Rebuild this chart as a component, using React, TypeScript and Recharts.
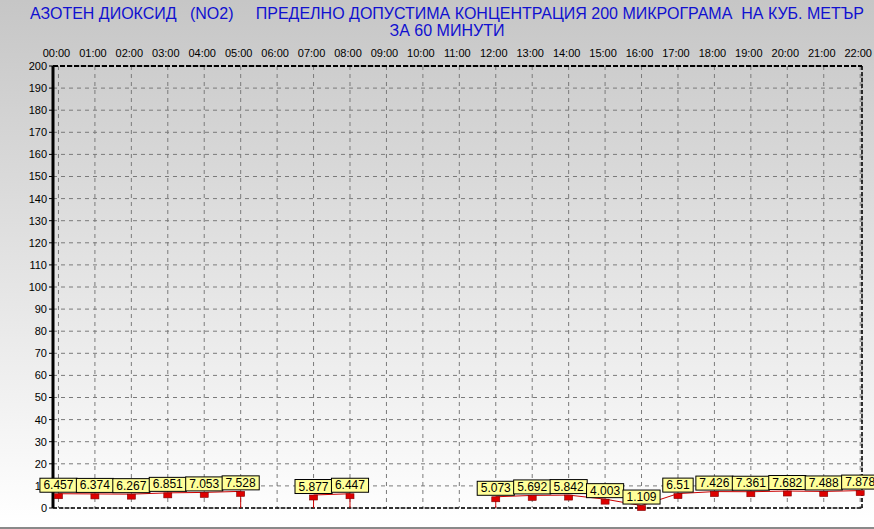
import { CartesianGrid, ComposedChart, LabelList, Line, ReferenceLine, XAxis, YAxis } from 'recharts';

const hours = [
  '00:00', '01:00', '02:00', '03:00', '04:00', '05:00', '06:00', '07:00', '08:00', '09:00', '10:00', '11:00',
  '12:00', '13:00', '14:00', '15:00', '16:00', '17:00', '18:00', '19:00', '20:00', '21:00', '22:00',
];

const no2Values: Array<number | null> = [
  6.457, 6.374, 6.267, 6.851, 7.053, 7.528, null, 5.877, 6.447, null, null, null,
  5.073, 5.692, 5.842, 4.003, 1.109, 6.51, 7.426, 7.361, 7.682, 7.488, 7.878,
];

const yTicks = [0, 10, 20, 30, 40, 50, 60, 70, 80, 90, 100, 110, 120, 130, 140, 150, 160, 170, 180, 190, 200];

const titleLine1 = 'АЗОТЕН ДИОКСИД   (NO2)     ПРЕДЕЛНО ДОПУСТИМА КОНЦЕНТРАЦИЯ 200 МИКРОГРАМА  НА КУБ. МЕТЪР';
const titleLine2 = 'ЗА 60 МИНУТИ';

const data = hours.map((hour, i) => ({ x: i, hour, v: no2Values[i] }));

const FONT = '"Liberation Sans", Arial, sans-serif';
const BASELINE_Y = 508;

interface DotProps {
  cx?: number;
  cy?: number;
  index?: number;
}

function renderMarker(props: DotProps) {
  const { cx, cy, index = 0 } = props;
  if (cx == null || cy == null || no2Values[index] == null) return <g key={`m-${index}`} />;
  // drop line where the series breaks next to a missing hour
  const gapNext = index + 1 < no2Values.length && no2Values[index + 1] === null;
  const gapPrev = index > 0 && no2Values[index - 1] === null;
  return (
    <g key={`m-${index}`}>
      {(gapNext || gapPrev) && <line x1={cx} x2={cx} y1={cy} y2={BASELINE_Y} stroke="#cc0000" strokeWidth={1} />}
      <rect x={cx - 4} y={cy} width={8} height={5} fill="#dd0000" stroke="#800000" strokeWidth={0.6} />
    </g>
  );
}

interface LabelProps {
  x?: number | string;
  y?: number | string;
  value?: number | string | null;
  index?: number;
}

function renderValueBox(props: LabelProps) {
  const { x, y, value, index } = props;
  if (value == null || x == null || y == null) return null;
  const cx = Number(x);
  const cy = Number(y);
  const text = String(value);
  const textWidth = text.split('').reduce((sum, ch) => sum + (ch === '.' ? 3.3 : 6.7), 0);
  const w = textWidth + 7;
  const h = 14;
  const bottom = cy - 1.5;
  return (
    <g key={`l-${index}`}>
      <rect x={cx - w / 2} y={bottom - h} width={w} height={h} fill="#ffff99" stroke="#000" strokeWidth={1} />
      <text x={cx - w / 2 + 3.5} y={bottom - 3} fontSize={12} fontFamily={FONT} fill="#000">
        {text}
      </text>
    </g>
  );
}

export default function App() {
  return (
    <div
      style={{
        position: 'absolute',
        left: 0,
        top: 0,
        width: 874,
        height: 529,
        boxSizing: 'border-box',
        background: 'linear-gradient(to bottom, #c6c6c6 0%, #fdfdfd 96%, #ffffff 100%)',
        borderBottom: '2px solid #8a8a8a',
        fontFamily: FONT,
      }}
    >
      <div
        style={{
          position: 'absolute',
          left: 0,
          top: 5,
          width: 894,
          textAlign: 'center',
          color: '#1010d0',
          fontSize: 16,
          lineHeight: '17px',
          whiteSpace: 'pre',
        }}
      >
        <div>{titleLine1}</div>
        <div>{titleLine2}</div>
      </div>
      <div style={{ position: 'absolute', left: 0, top: 0 }}>
        <ComposedChart width={874} height={527} data={data} margin={{ top: 40, right: 12, bottom: 19, left: 0 }}>
          <CartesianGrid stroke="#7a7a7a" strokeDasharray="4 4" strokeWidth={1} />
          <XAxis
            type="number"
            dataKey="x"
            orientation="top"
            domain={[-0.15, 22.05]}
            ticks={hours.map((_, i) => i)}
            tickFormatter={(i: number) => hours[i] ?? ''}
            interval={0}
            axisLine={false}
            tickLine={false}
            height={26}
            tickMargin={3}
            tick={{ fill: '#000', fontSize: 11, fontFamily: FONT, dx: -2 }}
          />
          <YAxis
            type="number"
            domain={[0, 200]}
            ticks={yTicks}
            interval={0}
            width={53}
            axisLine={{ stroke: '#000', strokeWidth: 3 }}
            tickLine={{ stroke: '#000' }}
            tickSize={4}
            tickMargin={2}
            tick={{ fill: '#000', fontSize: 11, fontFamily: FONT }}
          />
          <ReferenceLine y={200} stroke="#000" strokeWidth={2} strokeDasharray="5 2" />
          <ReferenceLine y={0} stroke="#000" strokeWidth={1.5} strokeDasharray="4 2" />
          <ReferenceLine x={22.05} stroke="#000" strokeWidth={1.5} strokeDasharray="4 2" />
          <Line
            type="linear"
            dataKey="v"
            stroke="#cc0000"
            strokeWidth={1}
            connectNulls={false}
            dot={renderMarker}
            activeDot={false}
            isAnimationActive={false}
          >
            <LabelList dataKey="v" content={renderValueBox} />
          </Line>
        </ComposedChart>
      </div>
    </div>
  );
}
